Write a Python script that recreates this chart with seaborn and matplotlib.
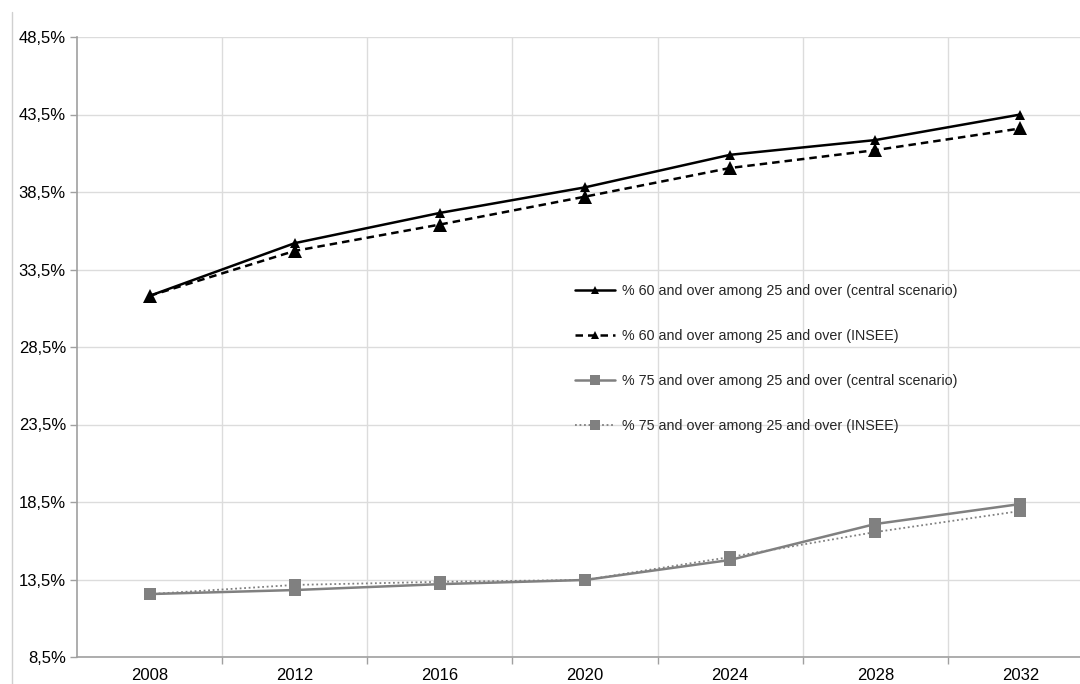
import matplotlib
matplotlib.use("Agg")
import matplotlib.pyplot as plt
import seaborn as sns
import pandas as pd
from matplotlib.ticker import FixedLocator, FuncFormatter
from matplotlib.lines import Line2D

years = [2008, 2012, 2016, 2020, 2024, 2028, 2032]
s60_central = [31.8, 35.2, 37.15, 38.8, 40.9, 41.85, 43.5]
s60_insee = [31.8, 34.7, 36.4, 38.2, 40.05, 41.2, 42.6]
s75_central = [12.56, 12.82, 13.2, 13.47, 14.76, 17.08, 18.37]
s75_insee = [12.56, 13.15, 13.35, 13.47, 14.95, 16.56, 17.92]
labels = [
    "% 60 and over among 25 and over (central scenario)",
    "% 60 and over among 25 and over (INSEE)",
    "% 75 and over among 25 and over (central scenario)",
    "% 75 and over among 25 and over (INSEE)",
]
yticks = [8.5, 13.5, 18.5, 23.5, 28.5, 33.5, 38.5, 43.5, 48.5]

sns.set_theme(style="white")
plt.rcParams["font.family"] = ["Liberation Sans", "DejaVu Sans"]

fig = plt.figure(figsize=(10.8, 6.84), dpi=100)
ax = fig.add_axes([77 / 1080, 1 - 657 / 684, (1093 - 77) / 1080, (657 - 37) / 684])

styles = [
    dict(color="black", linestyle="-", marker="^", markersize=7, linewidth=1.8),
    dict(color="black", linestyle=(0, (3, 2)), marker="^", markersize=10, linewidth=1.8),
    dict(color="#808080", linestyle="-", marker="s", markersize=9, linewidth=1.8),
    dict(color="#808080", linestyle=(0, (1, 1.5)), marker="s", markersize=9, linewidth=1.3),
]
series = [s60_central, s60_insee, s75_central, s75_insee]
for vals, lab, st in zip(series, labels, styles):
    df = pd.DataFrame({"year": years, "value": vals})
    sns.lineplot(data=df, x="year", y="value", ax=ax, label=lab,
                 markeredgewidth=0, **st)

ax.set_xlim(2006, 2034)
ax.set_ylim(8.5, 48.5)
ax.set_xticks(years)
ax.set_xticklabels([str(y) for y in years])
ax.xaxis.set_minor_locator(FixedLocator([2010, 2014, 2018, 2022, 2026, 2030]))
ax.set_yticks(yticks)
ax.yaxis.set_major_formatter(FuncFormatter(lambda v, p: f"{v:.1f}".replace(".", ",") + "%"))
ax.set_xlabel("")
ax.set_ylabel("")

ax.grid(False)
ax.grid(True, axis="y", which="major", color="#dcdcdc", linewidth=1)
ax.grid(True, axis="x", which="minor", color="#dcdcdc", linewidth=1)
ax.set_axisbelow(True)

for side in ["top", "right"]:
    ax.spines[side].set_visible(False)
for side in ["left", "bottom"]:
    ax.spines[side].set_color("#a0a0a0")
    ax.spines[side].set_linewidth(1.2)

ax.tick_params(axis="x", which="major", length=0, labelsize=12, colors="black", pad=8)
ax.tick_params(axis="x", which="minor", length=5, width=1, color="#a0a0a0", direction="out", bottom=True)
ax.tick_params(axis="y", which="major", length=5, width=1, color="#a0a0a0", direction="out",
               left=True, labelsize=12, labelcolor="black", pad=3)

leg = ax.legend(loc="upper left", bbox_to_anchor=(0.49, 0.601), frameon=False,
                fontsize=10.3, labelspacing=2.15, handlelength=2.8, handletextpad=0.5,
                borderpad=0, borderaxespad=0)
for h, ms in zip(leg.legend_handles, [6, 6, 7, 7]):
    h.set_markersize(ms)

fig.add_artist(Line2D([12 / 1080, 12 / 1080], [0, 1 - 12 / 684], color="#d0d0d0",
                      linewidth=1, transform=fig.transFigure))

fig.savefig("out.png", dpi=100)
